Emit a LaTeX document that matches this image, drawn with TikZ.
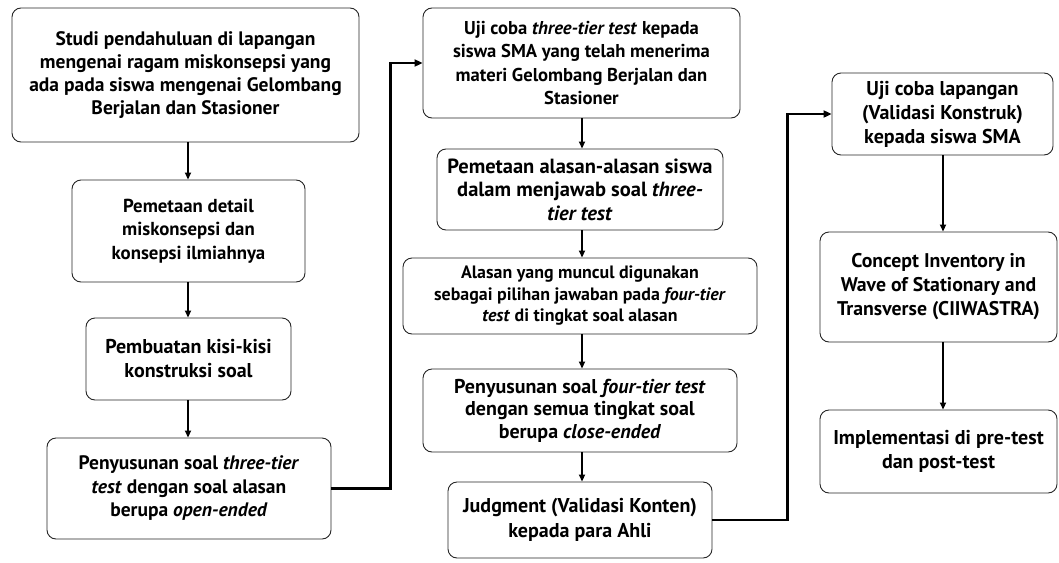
\documentclass[tikz,border=0pt]{standalone}
\usepackage{fontspec}
\setmainfont{PT Sans}
\usetikzlibrary{arrows.meta}
\tikzset{
  box/.style={draw=black!85, line width=0.9pt, rounded corners=9pt, align=center,
    inner sep=0pt},
  fs/.style 2 args={font=\fontsize{#1}{#2}\selectfont\bfseries},
  flow/.style={line width=1.8pt, -{Triangle[length=7pt,width=6pt]}},
  link/.style={line width=2.4pt, -{Triangle[length=8pt,width=7pt]}}
}
\begin{document}
\begin{tikzpicture}[x=1pt,y=-1pt]
\useasboundingbox (0,0) rectangle (1059,562);
% column 1
\node[box, fs={19.5}{23}, minimum width=347, minimum height=134] (A) at (185.5,75)
  {Studi pendahuluan di lapangan\\mengenai ragam miskonsepsi yang\\ada pada siswa mengenai Gelombang\\Berjalan dan Stasioner};
\node[box, fs={18.8}{23.5}, minimum width=233, minimum height=102] (B) at (188.5,231)
  {Pemetaan detail\\miskonsepsi dan\\konsepsi ilmiahnya};
\node[box, fs={20}{24}, minimum width=205, minimum height=82] (C) at (188.5,359)
  {Pembuatan kisi-kisi\\konstruksi soal};
\node[box, fs={19.5}{23.5}, minimum width=284, minimum height=101] (D) at (189,488.5)
  {Penyusunan soal \textit{three-tier}\\\textit{test} dengan soal alasan\\berupa \textit{open-ended}};
% column 2
\node[box, fs={18.6}{23.5}, minimum width=317, minimum height=110] (E) at (581.5,63)
  {Uji coba \textit{three-tier test} kepada\\siswa SMA yang telah menerima\\materi Gelombang Berjalan dan\\Stasioner};
\node[box, fs={20.5}{23.5}, minimum width=286, minimum height=81] (F) at (580,189.5)
  {Pemetaan alasan-alasan siswa\\dalam menjawab soal \textit{three-}\\\textit{tier test}};
\node[box, fs={17.9}{21.5}, minimum width=354, minimum height=76] (G) at (580,296)
  {Alasan yang muncul digunakan\\sebagai pilihan jawaban pada \textit{four-tier}\\\textit{test} di tingkat soal alasan};
\node[box, fs={20}{22.5}, minimum width=314, minimum height=83] (H) at (580,410.5)
  {Penyusunan soal \textit{four-tier test}\\dengan semua tingkat soal\\berupa \textit{close-ended}};
\node[box, fs={20}{25}, minimum width=264, minimum height=76] (I) at (580,520)
  {Judgment (Validasi Konten)\\kepada para Ahli};
% column 3
\node[box, fs={20}{24}, minimum width=221, minimum height=82] (J) at (942.5,114)
  {Uji coba lapangan\\(Validasi Konstruk)\\kepada siswa SMA};
\node[box, fs={19.8}{24}, minimum width=237, minimum height=110] (K) at (938.5,287)
  {Concept Inventory in\\Wave of Stationary and\\Transverse (CIIWASTRA)};
\node[box, fs={20}{24}, minimum width=237, minimum height=83] (L) at (938.5,451.5)
  {Implementasi di pre-test\\dan post-test};
% arrows
\draw[flow] (A.south -| 188,0) -- (B.north -| 188,0);
\draw[flow] (B.south -| 188,0) -- (C.north -| 188,0);
\draw[flow] (C.south -| 188,0) -- (D.north -| 188,0);
\draw[flow] (E.south -| 582,0) -- (F.north -| 582,0);
\draw[flow] (F.south -| 582,0) -- (G.north -| 582,0);
\draw[flow] (G.south -| 582,0) -- (H.north -| 582,0);
\draw[flow] (H.south -| 582,0) -- (I.north -| 582,0);
\draw[flow] (J.south -| 943,0) -- (K.north -| 943,0);
\draw[flow] (K.south -| 943,0) -- (L.north -| 943,0);
\draw[link] (D.east) -- ++(59,0) |- (E.west);
\draw[link] (I.east) -- ++(75,0) |- (J.west);
\end{tikzpicture}
\end{document}
